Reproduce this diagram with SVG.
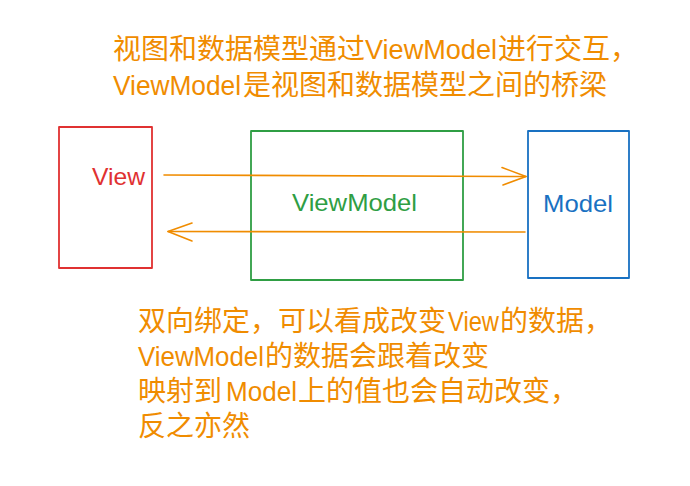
<svg xmlns="http://www.w3.org/2000/svg" width="690" height="486" viewBox="0 0 690 486">
  <style>
    .box { fill: none; stroke-width: 1.8; stroke-linejoin: round; }
    .note { font-family: "Noto Sans CJK SC", "Liberation Sans", sans-serif; font-size: 28px; fill: #f08c00; }
    .lat { font-family: "Liberation Sans", sans-serif; }
    .lbl { font-family: "Liberation Sans", sans-serif; font-size: 24px; }
    .conn { fill: none; stroke: #f08c00; stroke-width: 1.6; stroke-linecap: round; stroke-linejoin: round; }
  </style>
  <rect width="690" height="486" fill="#ffffff"/>

  <g id="caption-top">
    <text class="note" y="59"><tspan x="113">视图和数据模型通过</tspan><tspan class="lat" x="365" textLength="132" lengthAdjust="spacingAndGlyphs">ViewModel</tspan><tspan x="498">进行交互，</tspan></text>
    <text class="note" y="95"><tspan class="lat" x="113" textLength="128" lengthAdjust="spacingAndGlyphs">ViewModel</tspan><tspan x="243">是视图和数据模型之间的桥梁</tspan></text>
  </g>

  <g id="node-view">
    <rect class="box" x="59" y="127" width="93" height="141" stroke="#e03131"/>
    <text class="lbl" x="92" y="185" fill="#e03131" textLength="53" lengthAdjust="spacingAndGlyphs">View</text>
  </g>

  <g id="node-viewmodel">
    <rect class="box" x="251" y="131" width="212" height="149" stroke="#2f9e44"/>
    <text class="lbl" x="292" y="211" fill="#2f9e44" textLength="125" lengthAdjust="spacingAndGlyphs">ViewModel</text>
  </g>

  <g id="node-model">
    <rect class="box" x="528" y="131" width="101" height="147" stroke="#1971c2"/>
    <text class="lbl" x="543" y="212" fill="#1971c2" textLength="70" lengthAdjust="spacingAndGlyphs">Model</text>
  </g>

  <g id="connectors">
    <path class="conn" d="M164 175 L526 176.5"/>
    <path class="conn" d="M502 167.5 L526 176.5 L503 185"/>
    <path class="conn" d="M525 232 L168 231.5"/>
    <path class="conn" d="M192 223 L168 231.5 L192 241"/>
  </g>

  <g id="caption-bottom">
    <text class="note" y="331"><tspan x="138">双向绑定，可以看成改变</tspan><tspan class="lat" x="448" textLength="51" lengthAdjust="spacingAndGlyphs">View</tspan><tspan x="500">的数据，</tspan></text>
    <text class="note" y="366"><tspan class="lat" x="138" textLength="126" lengthAdjust="spacingAndGlyphs">ViewModel</tspan><tspan x="265">的数据会跟着改变</tspan></text>
    <text class="note" y="401"><tspan x="138">映射到</tspan><tspan class="lat" x="226" textLength="71" lengthAdjust="spacingAndGlyphs">Model</tspan><tspan x="298">上的值也会自动改变，</tspan></text>
    <text class="note" y="436"><tspan x="138">反之亦然</tspan></text>
  </g>
</svg>
